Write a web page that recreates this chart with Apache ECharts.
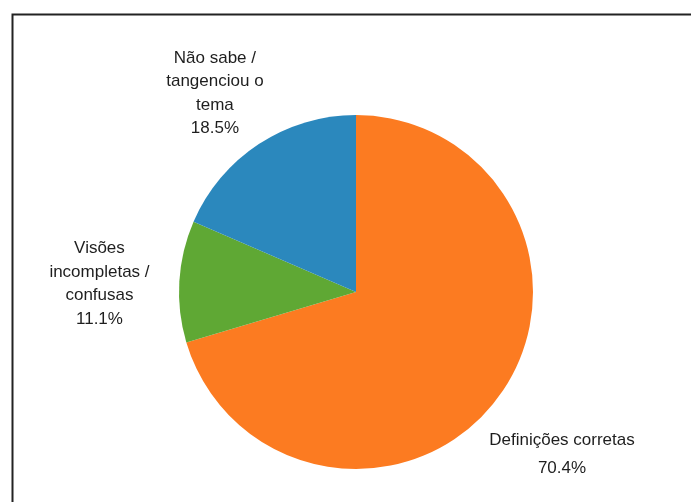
<!DOCTYPE html>
<html>
<head>
<meta charset="utf-8">
<script src="https://cdn.jsdelivr.net/npm/echarts@6/dist/echarts.min.js"></script>
<style>
  html, body { margin: 0; padding: 0; background: #ffffff; }
  #chart { width: 691px; height: 502px; }
</style>
</head>
<body>
<div id="chart"></div>
<script>
// Category names (line breaks as drawn) and their shares, in drawing order
const categories = [
  'Definições corretas',
  'Visões\nincompletas /\nconfusas',
  'Não sabe /\ntangenciou o\ntema'
];
const shares = [70.4, 11.1, 18.5];
const sliceColors = ['#fc7b21', '#5fa834', '#2b88bd'];
const labelLineHeights = [28, 23.5, 23.5];
const labelShiftY = [2, 0, 9];

const pieData = categories.map((name, i) => ({
  name: name,
  value: shares[i],
  itemStyle: { color: sliceColors[i] }
}));

// Same data on an invisible ring, used only to place the centred labels
const labelData = categories.map((name, i) => ({
  name: name,
  value: shares[i],
  label: { lineHeight: labelLineHeights[i] }
}));

const chart = echarts.init(document.getElementById('chart'), null, { renderer: 'canvas' });

chart.setOption({
  backgroundColor: '#ffffff',
  animation: false,
  graphic: [{
    type: 'rect',
    left: 10,
    top: 12,
    shape: { width: 720, height: 540 },
    style: { fill: 'none', stroke: '#222222', lineWidth: 2 },
    silent: true
  }],
  series: [
    {
      type: 'pie',
      center: [356, 292],
      radius: [0, 177],
      startAngle: 90,
      clockwise: true,
      silent: true,
      data: pieData,
      itemStyle: { borderWidth: 0 },
      label: { show: false },
      labelLine: { show: false },
      emphasis: { disabled: true }
    },
    {
      type: 'pie',
      center: [356, 299],
      radius: [244, 264],
      startAngle: 90,
      clockwise: true,
      silent: true,
      percentPrecision: 1,
      avoidLabelOverlap: false,
      data: labelData,
      itemStyle: { color: 'rgba(0,0,0,0)', borderWidth: 0 },
      label: {
        show: true,
        position: 'inside',
        formatter: '{b}\n{d}%',
        color: '#1e1e1e',
        fontFamily: 'Liberation Sans, Arial, sans-serif',
        fontSize: 17,
        align: 'center'
      },
      labelLayout: function (params) {
        return { dy: labelShiftY[params.dataIndex] };
      },
      labelLine: { show: false },
      emphasis: { disabled: true }
    }
  ]
});
</script>
</body>
</html>
